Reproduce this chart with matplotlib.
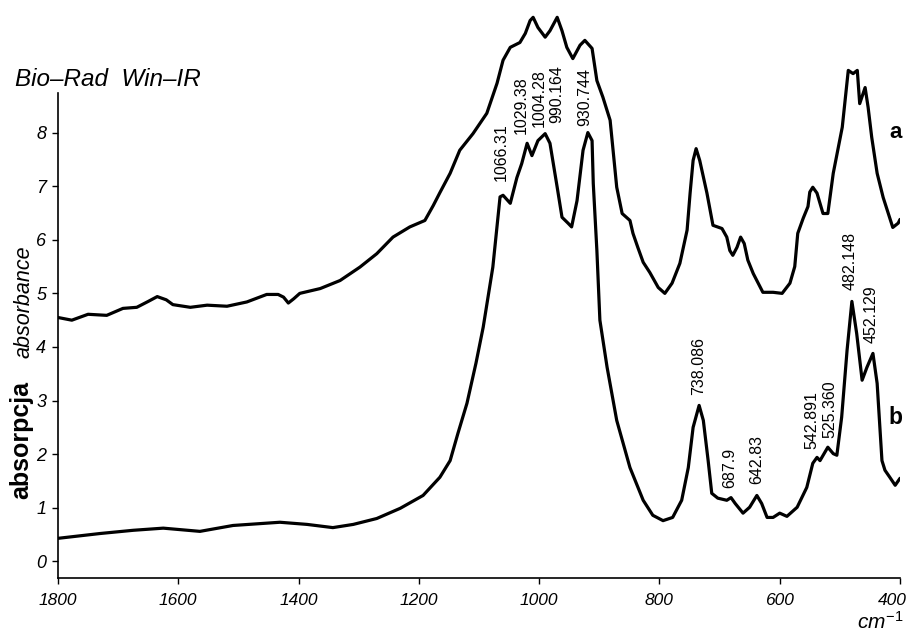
import matplotlib
matplotlib.use("Agg")
import matplotlib.pyplot as plt
from matplotlib.transforms import ScaledTranslation

plt.rcParams['font.family'] = ['Liberation Sans', 'DejaVu Sans']
plt.rcParams['mathtext.fontset'] = 'custom'
plt.rcParams['mathtext.it'] = 'Liberation Sans:italic'
plt.rcParams['mathtext.rm'] = 'Liberation Sans'

# ---- data: spectrum a (upper) ----
wn_a = [1800, 1777, 1750, 1719, 1692, 1669, 1650, 1635, 1620, 1609, 1580, 1552,
        1519, 1486, 1453, 1434, 1425, 1417, 1408, 1398, 1364, 1331, 1298, 1270,
        1243, 1215, 1190, 1176, 1165, 1148, 1132, 1110, 1087, 1070, 1060, 1048,
        1032, 1023, 1015, 1010, 1002, 990, 982, 970, 962, 954, 944, 932, 924,
        912, 904, 894, 882, 871, 862, 849, 844, 836, 827, 816, 802, 791, 779,
        766, 754, 749, 744, 739, 733, 721, 711, 696, 688, 683, 678, 671, 665,
        659, 653, 644, 628, 611, 596, 583, 575, 570, 561, 553, 550, 545, 538,
        528, 520, 511, 496, 486, 478, 471, 467, 458, 453, 447, 438, 428, 412,
        403, 400]
abs_a = [4.55, 4.50, 4.61, 4.59, 4.72, 4.74, 4.85, 4.94, 4.88, 4.79, 4.74, 4.78,
         4.76, 4.84, 4.98, 4.98, 4.93, 4.82, 4.90, 5.00, 5.09, 5.24, 5.49, 5.74,
         6.05, 6.24, 6.36, 6.64, 6.88, 7.24, 7.67, 7.98, 8.36, 8.92, 9.35, 9.59,
         9.68, 9.85, 10.09, 10.15, 9.96, 9.78, 9.90, 10.15, 9.90, 9.59, 9.38, 9.63,
         9.72, 9.57, 8.97, 8.66, 8.23, 6.98, 6.49, 6.36, 6.12, 5.86, 5.58, 5.39,
         5.11, 5.00, 5.19, 5.56, 6.18, 6.87, 7.48, 7.70, 7.48, 6.87, 6.27, 6.21,
         6.05, 5.80, 5.71, 5.86, 6.05, 5.93, 5.62, 5.37, 5.02, 5.02, 5.00, 5.19,
         5.50, 6.12, 6.40, 6.62, 6.89, 6.98, 6.87, 6.49, 6.49, 7.24, 8.10, 9.16,
         9.10, 9.16, 8.54, 8.84, 8.47, 7.91, 7.24, 6.79, 6.23, 6.31, 6.38]

# ---- data: spectrum b (lower) ----
wn_b = [1800, 1730, 1675, 1625, 1564, 1509, 1431, 1386, 1343, 1309, 1270, 1231,
        1193, 1165, 1148, 1135, 1120, 1105, 1093, 1077, 1065, 1060, 1048, 1037,
        1029, 1020, 1012, 1002, 990, 982, 970, 962, 952, 946, 937, 927, 919,
        912, 910, 904, 899, 887, 871, 849, 827, 811, 794, 778, 763, 752, 744,
        734, 727, 719, 713, 703, 688, 681, 674, 661, 650, 638, 630, 621, 611,
        600, 588, 571, 555, 545, 538, 533, 520, 511, 505, 497, 488, 480, 472,
        463, 455, 445, 438, 430, 425, 417, 408, 400]
abs_b = [0.43, 0.52, 0.58, 0.62, 0.56, 0.67, 0.73, 0.69, 0.63, 0.69, 0.80, 0.99,
         1.23, 1.57, 1.88, 2.39, 2.95, 3.70, 4.37, 5.49, 6.80, 6.83, 6.68, 7.16,
         7.42, 7.80, 7.57, 7.85, 7.98, 7.80, 6.98, 6.42, 6.31, 6.24, 6.73, 7.67,
         8.00, 7.85, 7.05, 5.80, 4.50, 3.62, 2.63, 1.75, 1.14, 0.86, 0.76, 0.82,
         1.14, 1.75, 2.50, 2.91, 2.63, 1.88, 1.27, 1.18, 1.14, 1.19, 1.08, 0.90,
         1.01, 1.23, 1.08, 0.82, 0.82, 0.90, 0.84, 1.01, 1.38, 1.83, 1.94, 1.88,
         2.13, 2.01, 1.98, 2.69, 3.94, 4.85, 4.25, 3.38, 3.62, 3.88, 3.32, 1.88,
         1.70, 1.57, 1.42, 1.55]

# ---- peak labels ----
peak_labels = ["1066.31", "1029.38", "1004.28", "990.164", "930.744",
               "738.086", "687.9", "642.83", "542.891", "525.360",
               "482.148", "452.129"]
peak_label_x = [1063, 1030, 1000, 971, 924, 734, 683, 638, 546, 516, 483, 448]
peak_label_y = [7.10, 7.98, 8.10, 8.17, 8.13, 3.10, 1.36, 1.45, 2.10, 2.30, 5.06, 4.07]

x_ticks = [1800, 1600, 1400, 1200, 1000, 800, 600, 400]
y_ticks = [0, 1, 2, 3, 4, 5, 6, 7, 8]

fig = plt.figure(figsize=(9.08, 6.39), dpi=100)
ax = fig.add_axes([58/908, 1-578/639, (900-58)/908, (578-5)/639])

ax.plot(wn_a, abs_a, color='black', lw=2.3, solid_joinstyle='round', solid_capstyle='round')
ax.plot(wn_b, abs_b, color='black', lw=2.3, solid_joinstyle='round', solid_capstyle='round')

ax.set_xlim(1800, 400)
ax.set_ylim(-0.31, 10.38)
ax.spines['top'].set_visible(False)
ax.spines['right'].set_visible(False)
ax.spines['left'].set_bounds(-0.31, 8.73)
for s in ('left', 'bottom'):
    ax.spines[s].set_linewidth(1.2)

ax.set_xticks(x_ticks)
ax.set_yticks(y_ticks)
ax.set_xticklabels([str(t) for t in x_ticks], fontstyle='italic', fontsize=12.5)
ax.set_yticklabels([str(t) for t in y_ticks], fontstyle='italic', fontsize=13)
ax.tick_params(axis='both', direction='out', length=4.5, width=1.0)
ax.tick_params(axis='x', pad=6)
ax.tick_params(axis='y', pad=4)
last = ax.get_xticklabels()[-1]
last.set_transform(last.get_transform() + ScaledTranslation(-8/100, 0, fig.dpi_scale_trans))

for t, xv, yv in zip(peak_labels, peak_label_x, peak_label_y):
    ax.text(xv, yv, t, rotation=90, ha='center', va='bottom', fontsize=11.5)

ax.text(407, 8.0, 'a', fontweight='bold', fontsize=16, ha='center', va='center')
ax.text(407, 2.68, 'b', fontweight='bold', fontsize=16.5, ha='center', va='center')

fig.text(15/908, 1-80/639, 'Bio\u2013Rad  Win\u2013IR', fontstyle='italic',
         fontsize=17.5, ha='left', va='center')
fig.text(21/908, 1-440/639, 'absorpcja', fontweight='bold', fontsize=18,
         rotation=90, ha='center', va='center')
fig.text(24/908, 1-302/639, 'absorbance', fontstyle='italic', fontsize=15.5,
         rotation=90, ha='center', va='center')
fig.text(880/908, 1-622/639, r'$\mathit{cm}^{\mathit{-1}}$', fontsize=15,
         ha='center', va='center')

fig.savefig('out.png', dpi=100)
